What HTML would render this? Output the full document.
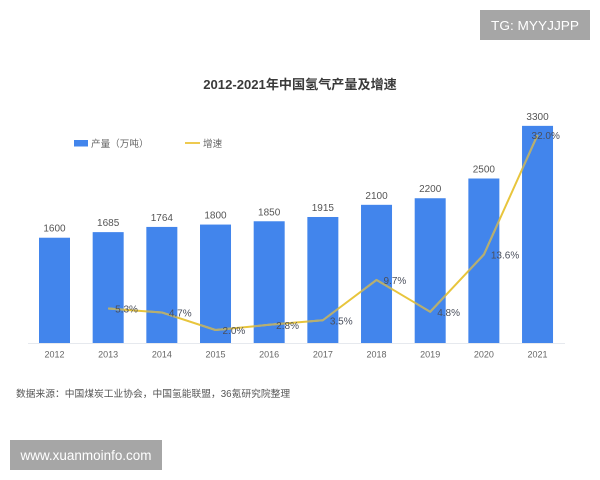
<!DOCTYPE html>
<html lang="zh">
<head>
<meta charset="utf-8">
<title>2012-2021年中国氢气产量及增速</title>
<style>
html,body{margin:0;padding:0;background:#fff;width:600px;height:480px;overflow:hidden}
svg{display:block;font-family:"Liberation Sans","Noto Sans CJK SC",sans-serif;filter:blur(0.3px)}
</style>
</head>
<body>
<svg id="chart" width="600" height="480" viewBox="0 0 600 480" xmlns="http://www.w3.org/2000/svg">
  <defs><clipPath id="bar-clip"></clipPath></defs>
  <rect width="600" height="480" fill="#ffffff"/>
  <text x="300" y="89" text-anchor="middle" font-size="13.1" font-weight="700" fill="#3a3a3a">2012-2021年中国氢气产量及增速</text>
  <rect x="74" y="140" width="14" height="6.5" fill="#4285ec"/>
  <text x="91" y="147" font-size="9.6" fill="#666666">产量（万吨）</text>
  <line x1="185" x2="200" y1="143" y2="143" stroke="#ecc43c" stroke-width="1.8"/>
  <text x="203" y="147" font-size="9.6" fill="#666666">增速</text>
  <line x1="28" x2="565" y1="343.5" y2="343.5" stroke="#e6e9ee" stroke-width="1"/>
  <g id="bars"></g>
  <g id="x-ticks"></g>
  <g id="bar-labels"></g>
  <path id="growth-line" fill="none" stroke="#e8c53c" stroke-width="2" stroke-linejoin="round"/>
  <path id="growth-line-over-bars" fill="none" stroke="#b5ae72" stroke-width="2" stroke-linejoin="round" clip-path="url(#bar-clip)"/>
  <g id="growth-labels"></g>
  <text x="16" y="397" font-size="9.75" fill="#555555">数据来源：中国煤炭工业协会，中国氢能联盟，36氪研究院整理</text>
  <rect x="480" y="10" width="110" height="30" fill="#a6a6a6"/>
  <text x="535" y="30" text-anchor="middle" font-size="13" fill="#ffffff" textLength="88" lengthAdjust="spacingAndGlyphs">TG: MYYJJPP</text>
  <rect x="10" y="440" width="152" height="30" fill="#a6a6a6"/>
  <text x="86" y="460" text-anchor="middle" font-size="13.5" fill="#ffffff" textLength="131" lengthAdjust="spacingAndGlyphs">www.xuanmoinfo.com</text>
</svg>
<script>
var years = ['2012','2013','2014','2015','2016','2017','2018','2019','2020','2021'];
var output = [1600,1685,1764,1800,1850,1915,2100,2200,2500,3300];
var growth = [null,5.3,4.7,2.0,2.8,3.5,9.7,4.8,13.6,32.0];

var NS = 'http://www.w3.org/2000/svg';
var baseY = 343;
var firstX = 54.5;
var stepX = 53.67;
var barW = 31;
function xScale(i){ return firstX + i * stepX; }
function yOutput(v){ return baseY - v * 0.0658; }
function yGrowth(v){ return baseY - v * 6.5; }
function make(tag, attrs, parent, text){
  var el = document.createElementNS(NS, tag);
  for (var k in attrs) el.setAttribute(k, attrs[k]);
  if (text !== undefined) el.textContent = text;
  parent.appendChild(el);
  return el;
}
var barsG = document.getElementById('bars');
var ticksG = document.getElementById('x-ticks');
var barLabelsG = document.getElementById('bar-labels');
var growthLabelsG = document.getElementById('growth-labels');
var clip = document.getElementById('bar-clip');
var d = '';
years.forEach(function(year, i){
  var cx = xScale(i);
  var top = yOutput(output[i]);
  var bar = make('rect', {x: cx - barW / 2, y: top, width: barW, height: baseY - top, fill: '#4285ec'}, barsG);
  
  
  make('rect', {x: cx - barW / 2, y: top, width: barW, height: baseY - top}, clip);
  var tick = make('text', {x: cx, y: 357.5, 'text-anchor': 'middle', 'font-size': 9, fill: '#666666'}, ticksG, year);
  
  
  var val = make('text', {x: cx, y: top - 6, 'text-anchor': 'middle', 'font-size': 10, fill: '#555555'}, barLabelsG, String(output[i]));
  
  
  if (growth[i] !== null) {
    var py = yGrowth(growth[i]);
    d += (d ? 'L' : 'M') + cx + ' ' + py;
    var last = i === years.length - 1;
    var lx = last ? cx - 6 : cx + 7;
    var g = make('text', {x: lx, y: py + 4, 'font-size': 10, fill: '#4a4f5c'}, growthLabelsG, growth[i].toFixed(1) + '%');
    
    
  }
});
document.getElementById('growth-line').setAttribute('d', d);
document.getElementById('growth-line-over-bars').setAttribute('d', d);
</script>
</body>
</html>
